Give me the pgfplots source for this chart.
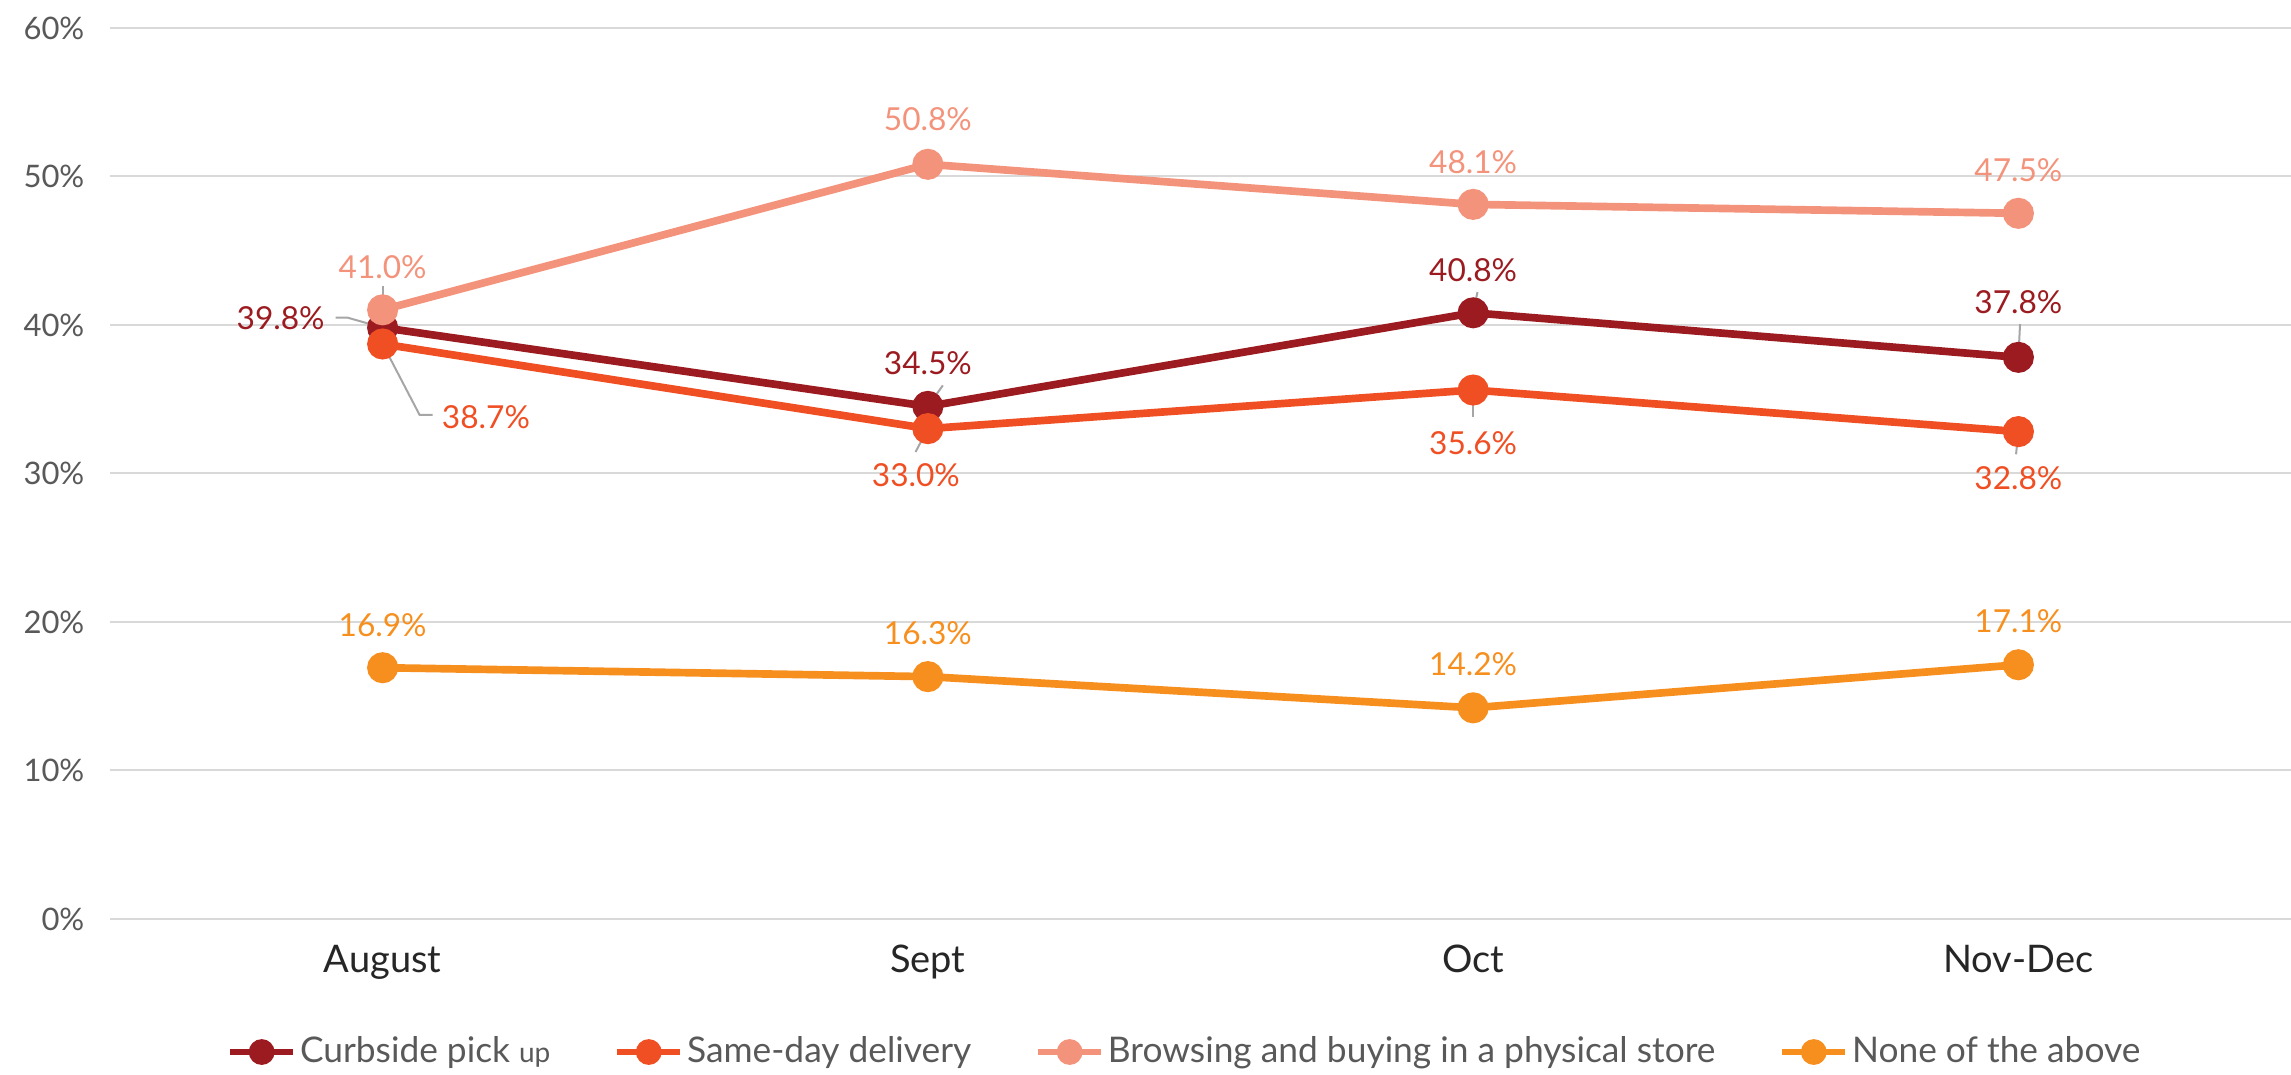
\documentclass[border=0pt]{standalone}
\usepackage{pgfplots}
\pgfplotsset{compat=1.18}
\usepackage{pgfplotstable}
\usepackage{fontspec}
\setmainfont{Lato}

\definecolor{curb}{HTML}{9B1B20}
\definecolor{same}{HTML}{F04E23}
\definecolor{brow}{HTML}{F4937B}
\definecolor{nonec}{HTML}{F78F1E}
\definecolor{gridc}{HTML}{D9D9D9}
\definecolor{ytxt}{HTML}{595959}
\definecolor{xtxt}{HTML}{262626}
\definecolor{lead}{HTML}{A6A6A6}

% x = category index, y = percent, dx/dy = label offset (pt)
\pgfplotstableread{
x y dx dy
0 39.8 -30.6 2.7
1 34.5 0 13
2 40.8 0 12.7
3 37.8 0 16.5
}\curbside
\pgfplotstableread{
x y dx dy
0 38.7 31 -22
1 33.0 -3.6 -14
2 35.6 0 -16
3 32.8 0 -14
}\sameday
\pgfplotstableread{
x y dx dy
0 41.0 0 12.7
1 50.8 0 13.5
2 48.1 0 12.6
3 47.5 0 12.9
}\browsing
\pgfplotstableread{
x y dx dy
0 16.9 0 12.7
1 16.3 0 13
2 14.2 0 13
3 17.1 0 13
}\noneabove

\begin{document}
\begin{tikzpicture}
\path[use as bounding box] (-33pt,-46.8pt) rectangle (654.3pt,275.6pt);
\begin{axis}[
  at={(0,0)}, anchor=south west,
  scale only axis,
  width=654.3pt, height=267.3pt,
  xmin=-0.5, xmax=3.5,
  ymin=0, ymax=60,
  xtick={0,1,2,3},
  xticklabels={August,Sept,Oct,Nov-Dec},
  ytick={0,10,20,30,40,50,60},
  yticklabels={0\%,10\%,20\%,30\%,40\%,50\%,60\%},
  axis line style={draw=none},
  major tick length=0pt,
  ymajorgrids,
  major grid style={color=gridc, line width=0.7pt},
  clip=false,
  xticklabel style={font=\fontsize{11.4}{13}\selectfont, text=xtxt, anchor=base, yshift=-16pt, inner sep=0pt},
  yticklabel style={font=\fontsize{9.3}{11}\selectfont, text=ytxt, anchor=base east, xshift=-7.5pt, yshift=-3.4pt, inner sep=0pt},
  every axis plot/.append style={line width=2.3pt, mark=*, mark size=3.5pt, mark options={solid}},
  nodes near coords={\pgfmathprintnumber[assume math mode=true,fixed,fixed zerofill,precision=1]{\pgfplotspointmeta}\%},
  point meta=y,
  visualization depends on={\thisrow{dx}\as\dx},
  visualization depends on={\thisrow{dy}\as\dy},
  nodes near coords style={anchor=center, xshift=\dx pt, yshift=\dy pt, font=\fontsize{9.5}{11}\selectfont, inner sep=0pt},
  legend columns=4,
  legend style={at={(axis description cs:0.493,0)}, yshift=-40pt, anchor=center,
    draw=none, fill=none, font=\fontsize{10.6}{12}\selectfont, text=ytxt,
    /tikz/every even column/.append style={column sep=18pt},
    nodes={inner sep=1pt}},
  legend image code/.code={
    \draw[line width=2pt] (0pt,0pt) -- (19pt,0pt);
    \fill (9.5pt,0pt) circle (2.7pt);},
]
\addplot[color=curb, nodes near coords style={text=curb}] table[x=x,y=y] {\curbside};
\addplot[color=same, nodes near coords style={text=same}] table[x=x,y=y] {\sameday};
\addplot[color=brow, nodes near coords style={text=brow}] table[x=x,y=y] {\browsing};
\addplot[color=nonec, nodes near coords style={text=nonec}] table[x=x,y=y] {\noneabove};
\legend{Curbside pick {\fontsize{8.4}{10}\selectfont up}, Same-day delivery, Browsing and buying in a physical store, None of the above}

% leader lines
\begin{scope}[lead, line width=0.6pt]
\draw ([yshift=2pt]axis cs:0,41.0) -- ([yshift=7pt]axis cs:0,41.0);
\draw (axis cs:0,39.8) -- ([xshift=-10.5pt,yshift=3pt]axis cs:0,39.8) -- ([xshift=-14.1pt,yshift=3pt]axis cs:0,39.8);
\draw (axis cs:0,38.7) -- ([xshift=11.1pt,yshift=-21.3pt]axis cs:0,38.7) -- ([xshift=15pt,yshift=-21.3pt]axis cs:0,38.7);
\draw (axis cs:1,34.5) -- ([xshift=4.5pt,yshift=6.3pt]axis cs:1,34.5);
\draw (axis cs:1,33.0) -- ([xshift=-3.7pt,yshift=-7pt]axis cs:1,33.0);
\draw (axis cs:2,40.8) -- ([xshift=1.3pt,yshift=6.2pt]axis cs:2,40.8);
\draw (axis cs:2,35.6) -- ([yshift=-8pt]axis cs:2,35.6);
\draw (axis cs:3,37.8) -- ([xshift=0.5pt,yshift=10pt]axis cs:3,37.8);
\draw (axis cs:3,32.8) -- ([xshift=-0.7pt,yshift=-6.8pt]axis cs:3,32.8);
\end{scope}
\end{axis}
\end{tikzpicture}
\end{document}
